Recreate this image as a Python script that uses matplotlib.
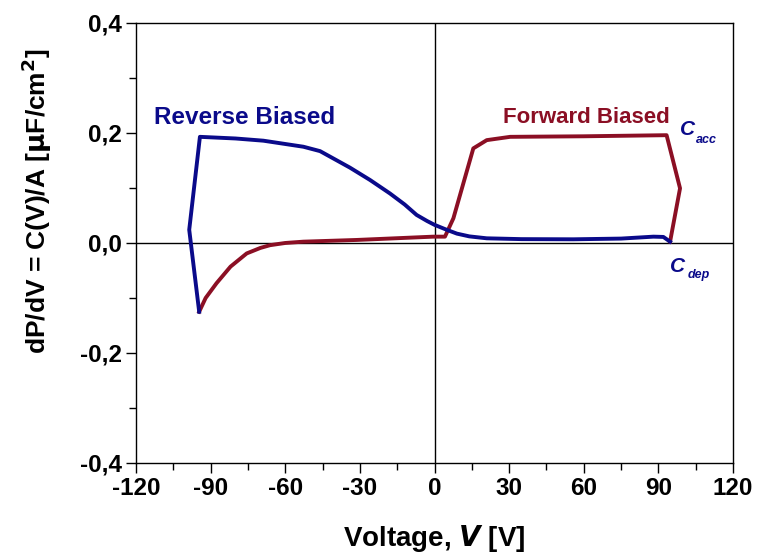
import matplotlib
matplotlib.use("Agg")
import matplotlib.pyplot as plt
from matplotlib.ticker import MultipleLocator, FuncFormatter

# reverse biased sweep (blue)
rev_v = [-94.6, -98.6, -94.3, -80.0, -68.8, -52.7, -46.0, -42.0, -34.0, -25.9, -17.9,
         -12.0, -7.2, -3.0, 0.0, 4.9, 9.0, 14.0, 21.0, 35.0, 55.8, 75.0, 88.0, 92.0, 94.7]
rev_c = [-0.125, 0.024, 0.193, 0.190, 0.186, 0.175, 0.167, 0.157, 0.137, 0.1145, 0.090,
         0.070, 0.051, 0.040, 0.033, 0.024, 0.017, 0.012, 0.0085, 0.007, 0.0067, 0.008,
         0.0115, 0.011, 0.0024]

# forward biased sweep (dark red)
fwd_v = [-94.6, -92.0, -87.6, -82.0, -75.5, -70.0, -66.1, -60.0, -52.7, -31.3, -0.5, 4.2,
         7.6, 15.6, 21.0, 30.4, 60.0, 93.3, 98.7, 94.7]
fwd_c = [-0.125, -0.100, -0.073, -0.043, -0.019, -0.009, -0.004, 0.000, 0.0024, 0.0055,
         0.0115, 0.0115, 0.045, 0.172, 0.187, 0.193, 0.194, 0.196, 0.0994, 0.0024]

x_ticks = [-120, -90, -60, -30, 0, 30, 60, 90, 120]
blue = "#0a0a8a"
red = "#8b0f24"

plt.rcParams['font.family'] = ['Liberation Sans', 'DejaVu Sans']
plt.rcParams['font.weight'] = 'bold'
plt.rcParams['axes.unicode_minus'] = False

fig = plt.figure(figsize=(7.67, 5.58), dpi=100)
ax = fig.add_axes([0.1773, 0.1703, 0.7784, 0.7885])

ax.axhline(0, color='black', lw=1.0, zorder=1)
ax.axvline(0, color='black', lw=1.0, zorder=1)

ax.plot(fwd_v, fwd_c, color=red, lw=2.8, zorder=3)
ax.plot(rev_v, rev_c, color=blue, lw=2.8, zorder=4)

ax.set_xlim(-120, 120)
ax.set_ylim(-0.4, 0.4)
ax.set_xticks(x_ticks)
ax.xaxis.set_minor_locator(MultipleLocator(15))
ax.yaxis.set_major_locator(MultipleLocator(0.2))
ax.yaxis.set_minor_locator(MultipleLocator(0.1))
ax.yaxis.set_major_formatter(FuncFormatter(lambda v, p: f"{v:.1f}".replace('.', ',').replace('-0,0', '0,0')))
ax.tick_params(which='both', direction='out', top=False, right=False, width=1.0)
ax.tick_params(which='major', length=7, labelsize=17.5, pad=3)
ax.tick_params(which='minor', length=5)
for lab in ax.get_xticklabels() + ax.get_yticklabels():
    lab.set_fontweight('bold')
for s in ax.spines.values():
    s.set_linewidth(1.0)

ax.set_xlabel("Voltage, $\\mathbf{\\mathit{V}}$ [V]", fontsize=20, fontweight='bold', labelpad=17)
ax.set_ylabel("dP/dV = C(V)/A [$\\mathbf{\\mu}$F/cm$^\\mathbf{2}$]", fontsize=19, fontweight='bold')
ax.yaxis.set_label_coords(-0.138, 0.595)

ax.text(-76.2, 0.229, "Reverse Biased", color=blue, fontsize=17.5, fontweight='bold', ha='center', va='center')
ax.text(60.9, 0.229, "Forward Biased", color=red, fontsize=16, fontweight='bold', ha='center', va='center')
ax.text(98.6, 0.207, "C", color=blue, fontsize=15, fontweight='bold', style='italic', ha='left', va='center')
ax.text(105.2, 0.187, "acc", color=blue, fontsize=9, fontweight='bold', style='italic', ha='left', va='center')
ax.text(94.8, -0.042, "C", color=blue, fontsize=15, fontweight='bold', style='italic', ha='left', va='center')
ax.text(101.6, -0.058, "dep", color=blue, fontsize=9, fontweight='bold', style='italic', ha='left', va='center')

fig.savefig("out.png", dpi=100)
